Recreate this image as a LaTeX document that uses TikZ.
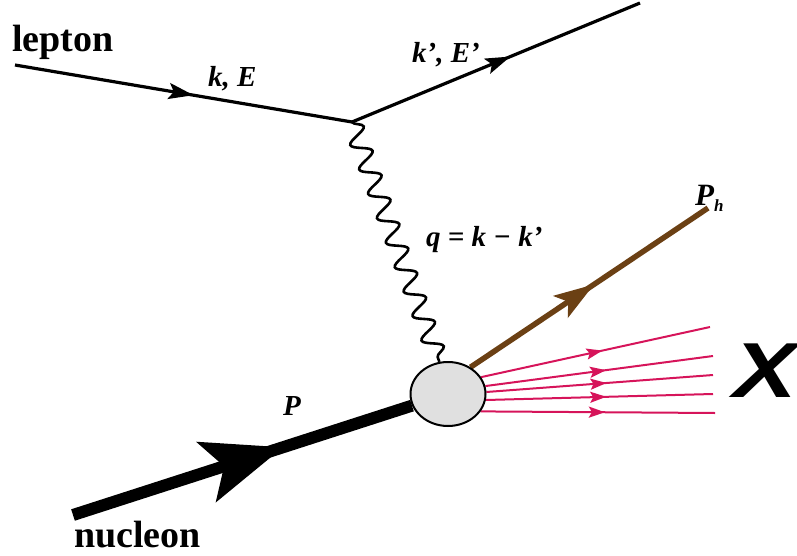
\documentclass[tikz,border=0pt]{standalone}
\usepackage{fontspec}
\setmainfont{Liberation Serif}
\newfontfamily\xsans{Liberation Sans}
\usetikzlibrary{arrows.meta,decorations.markings,decorations.pathmorphing,shapes.geometric}
\definecolor{hadron}{HTML}{6B4014}
\definecolor{jetred}{HTML}{D6145A}
\definecolor{blobgray}{HTML}{E0E0E0}
\pgfdeclarelayer{bg}
\pgfsetlayers{bg,main}
\tikzset{
  midarrow/.style 2 args={postaction={decorate},decoration={markings,mark=at position #1 with {\arrow{#2}}}},
  bigtext/.style={font=\fontsize{38}{40}\selectfont\bfseries, inner sep=0pt},
  lab/.style={font=\fontsize{29}{30}\selectfont\bfseries\itshape, inner sep=0pt},
  leptonline/.style={line width=3.2pt},
  jetline/.style={jetred, line width=2pt},
  blobstyle/.style={ellipse, draw, line width=2pt, fill=blobgray, minimum width=75pt, minimum height=64pt, inner sep=0pt},
}
\begin{document}
\begin{tikzpicture}[x=1pt,y=-1pt]
\useasboundingbox (0,0) rectangle (797,556);
\node[blobstyle] (blob) at (448,394) {};
\coordinate (lin) at (15,65);
\coordinate (vtx) at (352,122);
\coordinate (lout) at (640,3);
\coordinate (nin) at (73,515);
\coordinate (ph) at (708,208);
\coordinate (x1) at (710,327);
\coordinate (x2) at (713,356);
\coordinate (x3) at (713,375);
\coordinate (x4) at (713,394);
\coordinate (x5) at (715,413);
\begin{pgfonlayer}{bg}
\draw[leptonline, midarrow={0.53}{Stealth[length=25pt,width=16pt,inset=5pt]}] (lin) -- (vtx);
\draw[leptonline, midarrow={0.55}{Stealth[length=25pt,width=16pt,inset=5pt]}] (vtx) -- (lout);
\draw[line width=2.6pt, decorate, decoration={snake,amplitude=9.5pt,segment length=26pt}] (vtx) -- (blob.105);
\draw[line width=12pt, midarrow={0.62}{Stealth[length=80pt,width=62pt,inset=18pt]}] (nin) -- (blob);
\draw[hadron, line width=5.5pt, midarrow={0.52}{Stealth[length=40pt,width=26pt,inset=9pt]}] (blob.50) -- (ph);
\foreach \a/\e in {27/x1, 12/x2, 3/x3, -9/x4, -28/x5}
  \draw[jetline, midarrow={0.53}{Stealth[length=16pt,width=11pt,inset=3pt]}] (blob.\a) -- (\e);
\end{pgfonlayer}
\node[bigtext, anchor=base west] (lepton) at (12,52) {lepton};
\node[bigtext, anchor=base west] (nucleon) at (74,547) {nucleon};
\node[lab, anchor=base west] (kE) at (208,87) {k, E};
\node[lab, anchor=base west] (kpEp) at (412,63) {k’, E’};
\node[lab, anchor=base west] (q) at (426,246) {q = k − k’};
\node[lab, anchor=base west] (P) at (283,415) {P};
\node[lab, anchor=base west, font=\fontsize{31}{32}\selectfont\bfseries\itshape] (Ph) at (695,205) {P\raisebox{-6pt}{\fontsize{17}{17}\selectfont h}};
\node[anchor=base west, inner sep=0pt, font=\fontsize{78}{80}\selectfont\xsans\bfseries\itshape] (X) at (733,397) {\scalebox{1.22}[1]{X}};
\end{tikzpicture}
\end{document}
